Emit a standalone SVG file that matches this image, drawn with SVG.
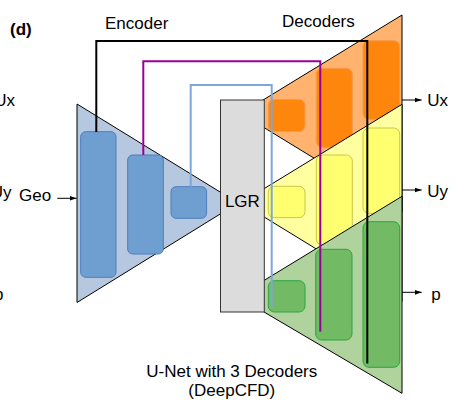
<svg xmlns="http://www.w3.org/2000/svg" width="458" height="418" viewBox="0 0 458 418">
<defs>
<marker id="ah" viewBox="0 0 10 10" refX="10" refY="5" markerWidth="7" markerHeight="7" markerUnits="userSpaceOnUse" orient="auto"><path d="M0,1.5 L10,5 L0,8.5 Z" fill="#000"/></marker>
</defs>
<style>
text{font-family:"Liberation Sans",Arial,sans-serif;font-size:17px;fill:#000}
.tri{stroke:#000;stroke-width:1}
.enc{fill:#6f9fd0;stroke:#4c7cbc;stroke-width:1}
.org{fill:#ff860c;stroke:#f59a4a;stroke-width:1}
.yel{fill:#ffff70;stroke:#c8c84a;stroke-width:1}
.grn{fill:#72ba64;stroke:#2ba641;stroke-width:1}
.skip{fill:none;stroke-width:2}
.arr{stroke:#000;stroke-width:1;fill:none;marker-end:url(#ah)}
</style>
<rect width="458" height="418" fill="#fff"/>
<g id="side-labels">
<text x="15" y="106" text-anchor="end">Ux</text>
<text x="11.5" y="197.5" text-anchor="end">Uy</text>
<text x="3.4" y="300" text-anchor="end">p</text>
<text x="10" y="34.5" style="font-weight:bold">(d)</text>
<text x="105" y="29.3">Encoder</text>
<text x="282" y="27">Decoders</text>
</g>
<g id="encoder">
<polygon class="tri" points="77,104 77,302.5 238,203" fill="#b5c8e0"/>
<rect class="enc" x="80.7" y="131.7" width="35.3" height="145.6" rx="5"/>
<rect class="enc" x="127.7" y="155" width="35.6" height="99" rx="5"/>
<rect class="enc" x="171" y="186.7" width="35.6" height="31.6" rx="5"/>
</g>
<g id="decoder-ux">
<polygon class="tri" points="402,15 402,212 241,113.5" fill="#ffb36e"/>
<rect class="org" x="268.3" y="99.5" width="36.7" height="32" rx="6"/>
<rect class="org" x="316.3" y="68.3" width="36" height="79" rx="6"/>
<rect class="org" x="363" y="40.7" width="36.7" height="78.6" rx="6"/>
</g>
<g id="decoder-uy">
<polygon class="tri" points="402,104.3 402,301.5 241,202.8" fill="#ffffa0"/>
<rect class="yel" x="268.3" y="186.3" width="36.7" height="31.3" rx="6"/>
<rect class="yel" x="316.3" y="155" width="36" height="90" rx="6"/>
<rect class="yel" x="363" y="128" width="36.7" height="85.3" rx="6"/>
</g>
<g id="decoder-p">
<polygon class="tri" points="402,196.3 402,393.3 264,312 241,294.5" fill="#b0d29c"/>
<rect class="grn" x="268.3" y="280.7" width="36.7" height="31.3" rx="6"/>
<rect class="grn" x="315.7" y="249.3" width="36.3" height="90.7" rx="6"/>
<rect class="grn" x="363" y="221.7" width="36.7" height="145.6" rx="6"/>
</g>
<g id="lgr">
<rect x="220.5" y="100" width="43.8" height="212" fill="#dcdcdc" stroke="#333" stroke-width="1"/>
<text x="242.4" y="206.7" text-anchor="middle">LGR</text>
</g>
<g id="connectors">
<polyline class="skip" points="96.3,132 96.3,41 367.3,41 367.3,363.5" stroke="#000"/>
<polyline class="skip" points="143.3,155 143.3,61.3 320.3,61.3 320.3,331.7" stroke="#990099"/>
<polyline class="skip" points="190.7,186.7 190.7,85 271.7,85 271.7,307.7" stroke="#7ea6da"/>
<line class="arr" x1="57.3" y1="198.3" x2="76.5" y2="198.3"/>
<line class="arr" x1="402" y1="100" x2="421.7" y2="100"/>
<line class="arr" x1="402" y1="190" x2="421.7" y2="190"/>
<line class="arr" x1="402" y1="292.3" x2="421.7" y2="292.3"/>
</g>
<g id="labels">
<text x="19" y="200.7">Geo</text>
<text x="427.3" y="106">Ux</text>
<text x="427.3" y="196.7">Uy</text>
<text x="431.3" y="300">p</text>
<text x="231.8" y="376.7" text-anchor="middle">U-Net with 3 Decoders</text>
<text x="231.8" y="395.5" text-anchor="middle">(DeepCFD)</text>
</g>
</svg>
